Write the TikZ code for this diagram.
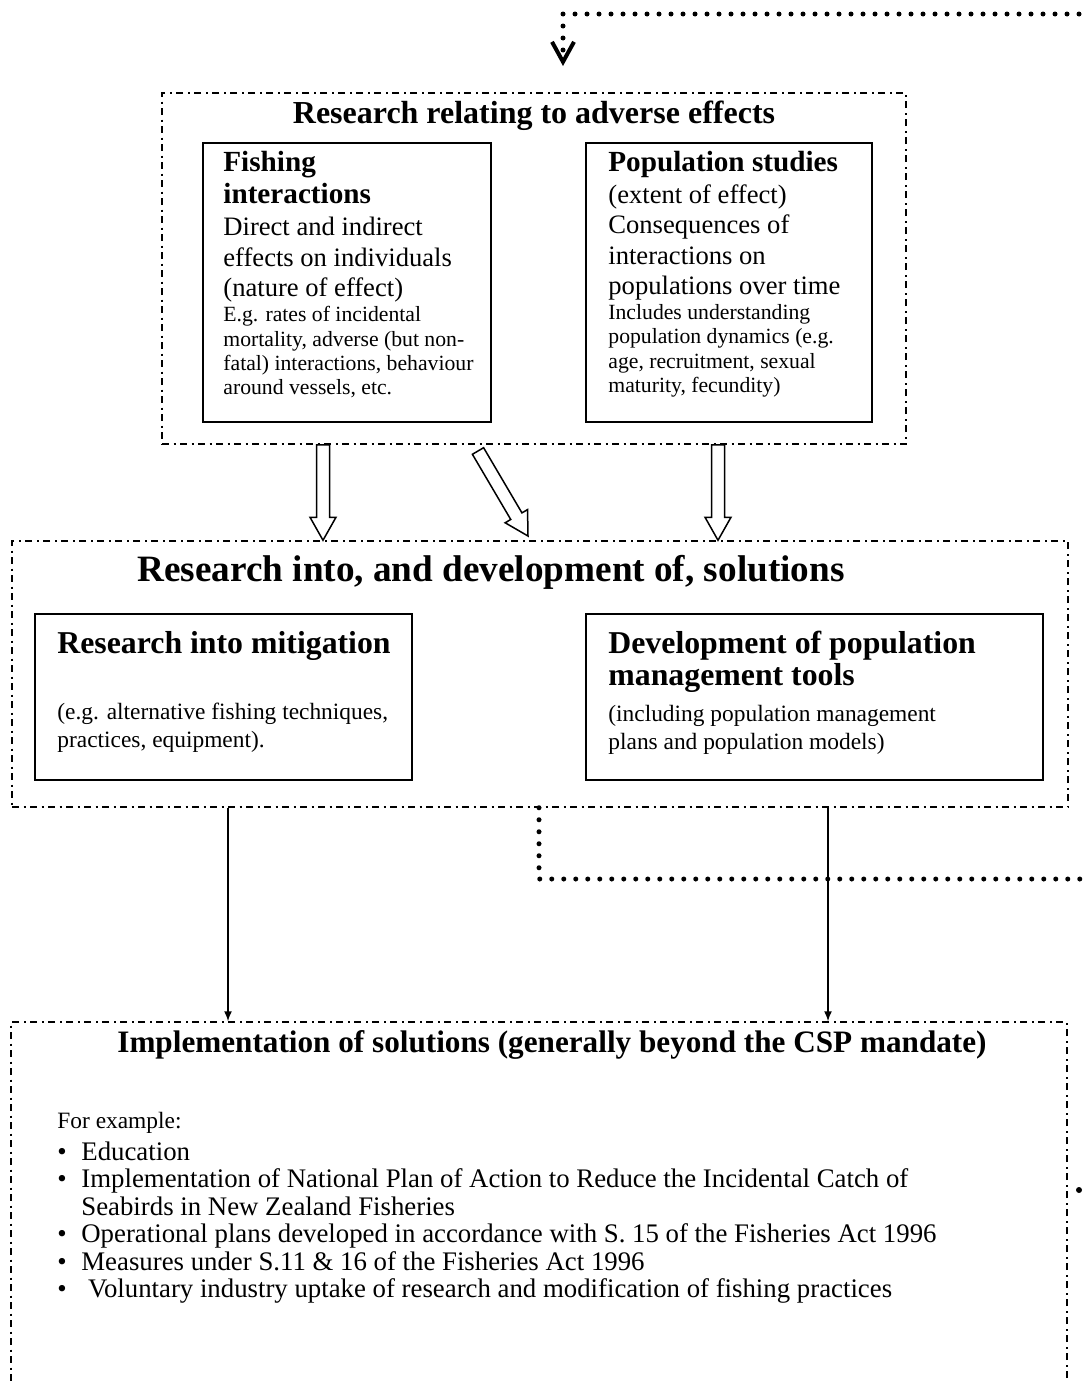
\documentclass[tikz,border=0pt]{standalone}
\usepackage{fontspec}
\setmainfont{Liberation Serif}
\usetikzlibrary{arrows.meta,calc}

% hollow block arrow from #1 to #2
\newcommand{\blockarrow}[2]{%
  \coordinate (ba-head) at ($(#2)!11.5pt!(#1)$);
  \draw[blockarr] ($(#1)!3.25pt!90:(#2)$) -- ($(ba-head)!3.25pt!-90:(#1)$)
    -- ($(ba-head)!6.5pt!-90:(#1)$) -- (#2)
    -- ($(ba-head)!6.5pt!90:(#1)$) -- ($(ba-head)!3.25pt!90:(#1)$)
    -- ($(#1)!3.25pt!-90:(#2)$) -- cycle;%
}

\begin{document}
\begin{tikzpicture}[x=0.5pt, y=-0.5pt]
		\tikzstyle{group}=[draw, line width=0.75pt, dash pattern=on 3.5pt off 2.25pt on 1pt off 2.25pt, inner sep=0pt]
		\tikzstyle{box}=[draw, line width=1.1pt, inner sep=0pt]
		\tikzstyle{txt}=[anchor=north west, inner sep=0pt, align=left]
		\tikzstyle{title}=[anchor=base, inner sep=0pt, font=\fntTitle]
		\tikzstyle{conn}=[line width=0.75pt, -{Latex[length=5pt,width=4pt]}]
		\tikzstyle{dotline}=[line width=2.5pt, line cap=round, dash pattern=on 0pt off 6pt]
		\tikzstyle{blockarr}=[draw, fill=white, line width=0.75pt, line join=miter]
		\def\fntTitle{\bfseries\fontsize{15.6}{16}\selectfont}
		\def\fntSub{\bfseries\fontsize{15.9}{16}\selectfont}
		\def\fntHead{\bfseries\fontsize{14.6}{16}\selectfont}
		\def\fntBox{\fontsize{13.3}{15.25}\selectfont}
		\def\fntSmall{\fontsize{10.85}{12.2}\selectfont}
		\def\fntBody{\fontsize{11.7}{14}\selectfont}
		\def\fntList{\fontsize{13.4}{13.75}\selectfont}
		\def\bul{\makebox[12pt][l]{\textbullet}}
		
		\useasboundingbox (0,0) rectangle (1085,1381);
		\clip (0,0) rectangle (1085,1381);
		
		% research relating to adverse effects
		\node[group, minimum width=372pt, minimum height=175.5pt](res-box) at (534,268.5) {};
		\node[title, font=\bfseries\fontsize{16}{16}\selectfont](res-title) at (534,123) {Research relating to adverse effects};
		
		\node[box, minimum width=144pt, minimum height=139.5pt](fish-box) at (347,282.5) {};
		\node[txt, font=\fntHead](fish-head) at (223,151) {Fishing\\interactions};
		\node[txt, font=\fntBox](fish-text) at (223,217) {Direct and indirect\\effects on individuals\\(nature of effect)};
		\node[txt, font=\fntSmall](fish-small) at (223,306) {E.g. rates of incidental\\mortality, adverse (but non-\\fatal) interactions, behaviour\\around vessels, etc.};
		
		\node[box, minimum width=143pt, minimum height=139.5pt](pop-box) at (729,282.5) {};
		\node[txt, font=\fntHead](pop-head) at (608,151) {Population studies};
		\node[txt, font=\fntBox](pop-text) at (608,184) {(extent of effect)\\Consequences of\\interactions on\\populations over time};
		\node[txt, font=\fntSmall](pop-small) at (608,304) {Includes understanding\\population dynamics (e.g.\\age, recruitment, sexual\\maturity, fecundity)};
		
		% research into and development of solutions
		\node[group, minimum width=528pt, minimum height=133pt](sol-box) at (540,674) {};
		\node[title, font=\bfseries\fontsize{18.6}{18}\selectfont](sol-title) at (491,581) {Research into, and development of, solutions};
		
		\node[box, minimum width=188.5pt, minimum height=83pt](mit-box) at (223.5,697) {};
		\node[txt, font=\fntSub](mit-head) at (57,631) {Research into mitigation};
		\node[txt, font=\fntBody](mit-text) at (57,703) {(e.g. alternative fishing techniques,\\practices, equipment).};
		
		\node[box, minimum width=228.5pt, minimum height=83pt](tools-box) at (814.5,697) {};
		\node[txt, font=\fntSub](tools-head) at (608,631) {Development of population\\management tools};
		\node[txt, font=\fntBody](tools-text) at (608,705) {(including population management\\plans and population models)};
		
		% implementation
		\node[group, minimum width=528pt, minimum height=199pt](impl-box) at (539,1221) {};
		\node[title](impl-title) at (552,1052) {Implementation of solutions (generally beyond the CSP mandate)};
		\node[txt, font=\fntBody](impl-intro) at (57,1112) {For example:};
		\node[txt, font=\fntList](impl-list) at (57,1141) {\bul Education\\
			\bul Implementation of National Plan of Action to Reduce the Incidental Catch of\\
			\hspace*{12pt}Seabirds in New Zealand Fisheries\\
			\bul Operational plans developed in accordance with S. 15 of the Fisheries Act 1996\\
			\bul Measures under S.11 \& 16 of the Fisheries Act 1996\\
			\bul\ Voluntary industry uptake of research and modification of fishing practices};
		
		\node[circle, fill, inner sep=0pt, minimum size=3pt](stray-dot) at (1079,1190) {};
		
		% block arrows
		\coordinate (diag-tail) at (478,451);
		\coordinate (diag-tip) at (528,536);
		\blockarrow{res-box.south -| 323,0}{sol-box.north -| 323,0}
		\blockarrow{diag-tail}{diag-tip}
		\blockarrow{res-box.south -| 718,0}{sol-box.north -| 718,0}
		
		\draw[conn] (sol-box.south -| 228,0) -- (impl-box.north -| 228,0);
		\draw[conn] (sol-box.south -| 828,0) -- (impl-box.north -| 828,0);
		
		% dotted loop
		\coordinate (loop-in) at (1091,14);
		\coordinate (loop-end) at (563,66);
		\coordinate (loop-out) at (1095,879);
		\draw[dotline, -{Straight Barb[length=10pt,width=11pt,line width=2pt]}] (loop-in) -| (loop-end);
		\draw[dotline] (sol-box.south -| 539,0) |- (loop-out);
\end{tikzpicture}
\end{document}
